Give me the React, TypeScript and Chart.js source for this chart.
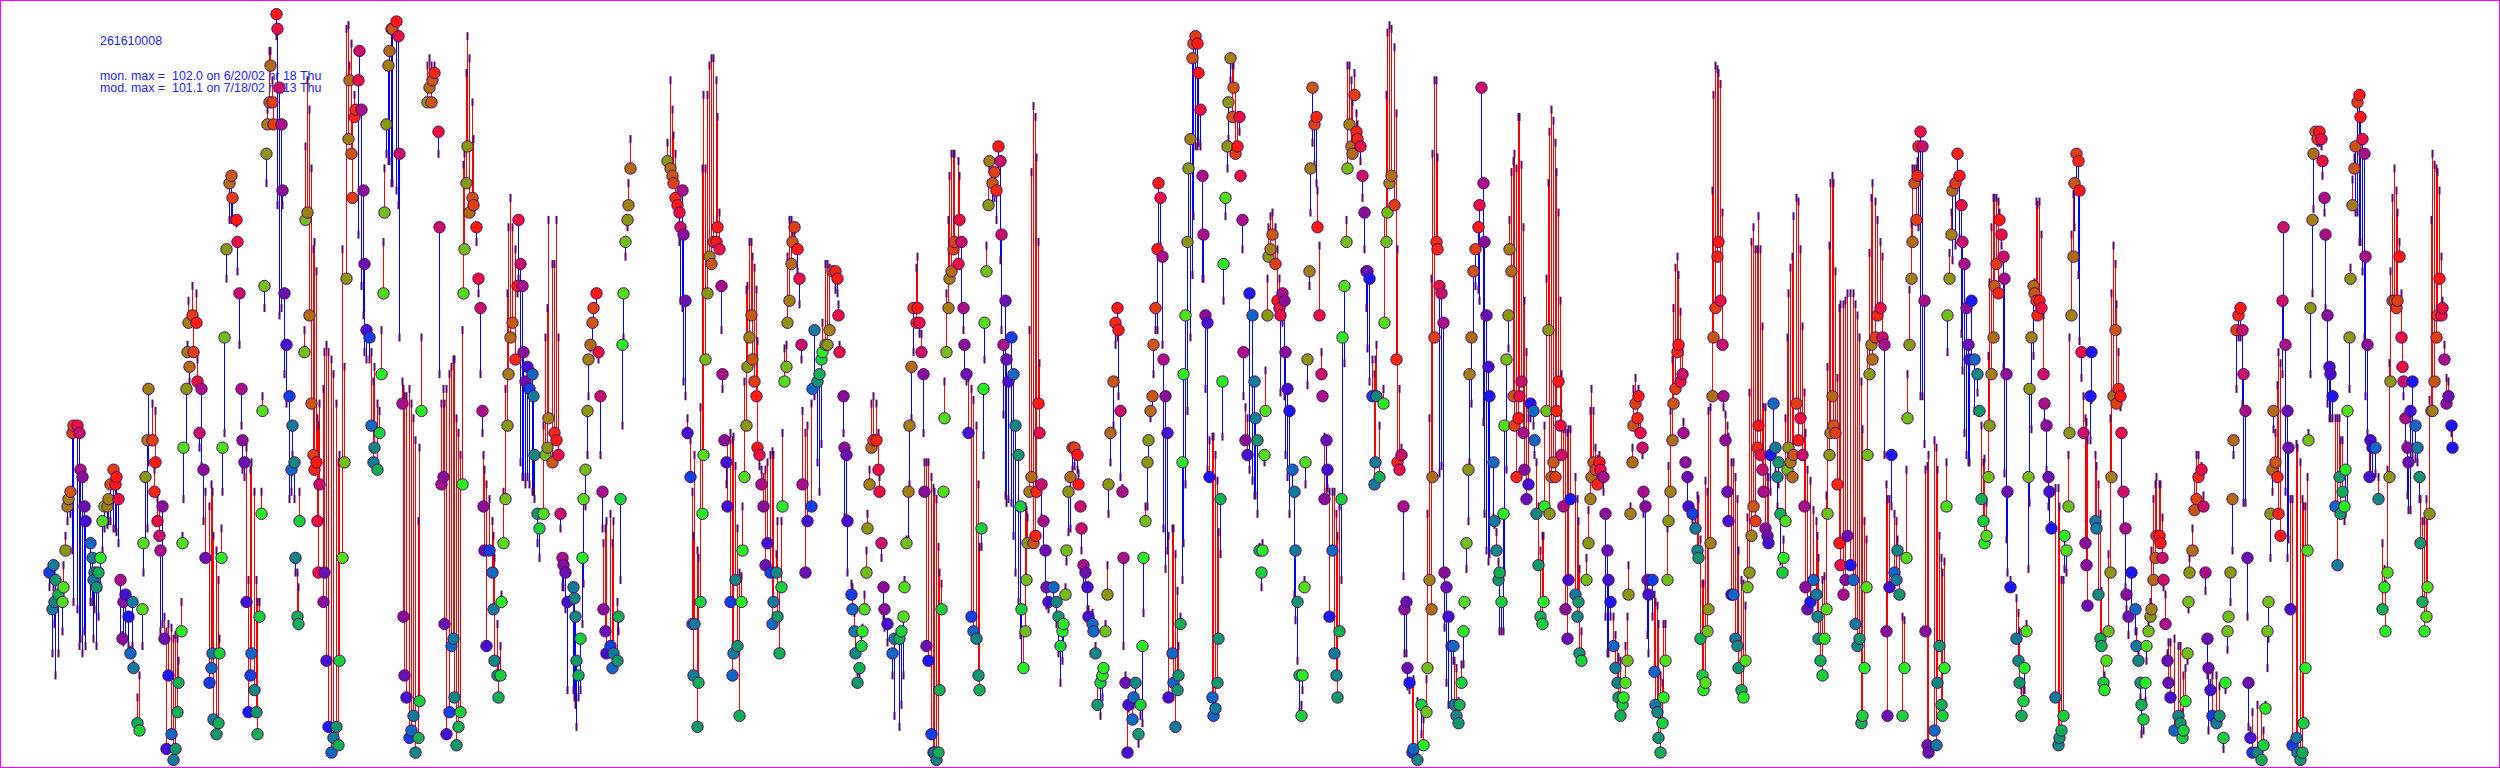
import { useEffect, useRef } from "react";
import { Chart, registerables } from "chart.js";

Chart.register(...registerables);

// Each record: [plot position along the hourly time axis, monitored ozone, modelled ozone]
const spanA = [[49,26,24],[53,27,24],[55,25,12],[52,21,15],[54,22,19],[58,23,15],[62,22,18],[63,24,27],[65,29,31],[67,35,33],[68,36,35],[70,37,34],[72,45,29],[73,46,22],[77,46,21],[79,45,16],[80,40,17],[82,39,15],[84,35,18],[85,33,16],[90,30,22],[92,28,22],[94,26,21],[93,25,17],[96,24,16],[98,26,20],[100,28,24],[102,33,29],[104,35,32],[107,35,32.5],[108,36,33],[110,38,33],[113,40,32],[115,38,32],[116,39,31.5],[118,36,30],[120,25,17],[122,17,17.5],[123,22,16.5],[125,23,17],[128,20,16],[130,15,15.5],[132,22,16],[133,13,13.5],[137,5.5,9],[139,4.5,12],[142,21,16],[143,30,26],[145,39,30],[147,44,32],[148,51,41],[152,44,49],[154,37,40],[155,41,48],[157,33,36],[159,31,35],[160,29,18],[162,35,19],[164,17,20],[166,2,18],[168,12,19],[171,4,18.5],[173,0.5,17],[175,2,17.5],[177,7,17],[178,11,14],[181,18,22],[182,30,31],[183,43,36],[186,51,43],[187,56,57],[188,60,63],[189,54,52],[192,61,65],[193,56,60],[196,60,64],[197,52,55],[199,45,43],[201,51,40.5],[203,40,33],[205,28,37],[209,11,35],[211,13,38],[212,15,37],[213,6,31],[216,4,29],[218,5.5,25],[219,15,17],[221,28,32],[222,43,37],[224,58,45],[226,70,66],[229,79,74],[231,80,74],[232,77,74],[236,74,73.5],[237,71,67],[239,64,57],[241,51,46],[242,44,40],[244,41,39],[246,22,43],[248,7,25],[250,12,40],[251,15,41],[254,10,37],[256,7,25],[257,4,22],[259,20,22],[261,34,37],[262,48,50],[264,65,62],[266,83,79],[267,87,89],[269,90,97],[270,95,97],[272,90,93],[273,87,90],[276,102,99],[277,100,76],[279,92,61],[281,87,62],[282,78,76],[284,64,53],[286,57,49],[289,50,36],[291,40,37],[292,46,42],[294,41,36],[295,28,26],[297,20,26],[298,19,24],[299,33,37]];

const spanB = [[304,56,59],[305,74,84],[307,75,93],[309,61,89],[311,49,81],[313,42,70],[314,40,71],[316,41,67],[317,33,47],[318,26,46],[319,38,49],[323,22,51],[324,26,56],[326,14,57],[328,5,56],[331,1.5,55],[333,3.5,53],[336,5,49],[338,2.5,41],[339,14,42],[342,28,70],[344,41,54],[346,66,100],[348,85,100.5],[349,93,95],[351,83,98],[352,77,88],[354,88,91],[355,89,89],[358,93,72],[359,97,93],[361,89,65],[363,78,61],[364,68,56],[366,59,55],[369,58,55],[371,46,56],[373,41,52],[374,43,54],[377,40,49],[379,45,48],[381,53,59],[383,64,71],[384,75,81],[386,87,83],[388,95,82],[389,97,82],[391,100,79],[392,100,79],[396,101,78],[398,99,76],[399,83,58],[402,49,52],[403,20,51],[404,12,50],[406,9,50],[409,3.5,51],[411,4.5,49],[413,6.5,47],[415,1.5,44],[418,3.5,33],[419,8.5,43],[421,48,58],[427,90,95],[429,92,96],[431,90,95],[432,93,94],[434,94,95],[438,86,83],[439,73,53],[441,38,49],[443,39,51],[444,19,49],[446,4,51],[449,7,53],[451,16,54],[453,17,55],[454,9,55],[456,2.5,47],[458,5,45],[460,7,42],[462,38,59],[463,64,81.5],[464,70,83],[466,79,94],[467,84,99],[469,75,96],[472,77,90],[473,76,85],[476,73,71],[478,66,64],[480,62,53],[482,48,45],[483,35,42],[484,29,40],[486,16,38],[489,29,36],[492,26,33],[493,21,31],[494,14,28],[497,12,19],[498,9,14],[500,12,16],[501,22,23],[503,30,37],[505,36,51],[507,46,64],[508,53,73],[510,58,77],[512,60,73],[515,55,70],[517,65,64],[518,74,66],[520,68,41],[522,65,39],[523,56,39],[525,52,38],[527,54,39],[529,51,38],[532,53,37],[533,50,37],[534,42,36],[537,34,30],[539,32,28],[543,34,46],[545,42,58],[547,43,62],[548,47,74],[552,41,68],[554,45,68],[556,44,74],[558,42,58],[560,34,32],[562,28,24],[563,27,24],[565,26,21],[567,22,10]];

const spanC = [[573,24,10],[574,22.5,9],[575,20,8],[576,14,5],[578,12,9],[580,17,10],[582,28,19],[583,36,24.5],[585,40,35],[587,48,42],[588,55,50],[590,57,56.5],[592,60,57],[593,62,60],[596,64,62],[598,56,55],[600,50,42],[602,37,32],[603,21,30],[605,18,32],[606,15,33],[610,16,34],[612,13,30],[613,15,33],[617,14,22],[618,20,18],[620,36,25],[622,57,46],[623,64,58],[625,71,69],[627,74,73],[628,76,79],[630,81,85],[667,82,84.5],[670,81,93],[672,80,89],[673,79,85.5],[675,77,83],[677,76,77],[679,75,71],[680,73,63],[682,78,62],[683,72,52],[685,63,50],[687,45,47],[690,39,44],[692,19,37],[693,12,31],[694,19,42],[697,5,29],[698,11,28],[700,22,48.5],[702,34,81],[703,42,91],[705,55,81],[707,64,91],[709,69,95],[711,68,96],[713,71,96],[716,71,93],[717,73,88],[719,70,75],[721,65,59],[722,53,51],[724,44,44],[726,41,38],[727,35,44],[730,22,45],[732,12,44],[733,15,44.5],[735,25,40.5],[737,16,32],[739,6.5,26],[741,22,25.5],[742,29,35],[744,39,52],[746,46,64.5],[747,54,65],[749,58,71],[751,61,71],[752,55,69],[754,52,67.5],[756,50,64.5],[757,43,57.5],[759,42,40.5],[761,38,40],[763,35,39],[765,27,40],[767,30,41],[770,26,42],[772,19,42.5],[773,22,42],[776,26,28.5],[777,20,33],[779,15,24],[781,24,33],[782,35,45],[784,52,56.5],[786,54,57],[787,60,69],[789,63,74],[791,68,74],[792,71,72.5],[794,73,72],[797,70,67],[799,66,62.5],[801,57,55],[802,38,48],[805,26,45],[807,33,46],[811,35,49],[812,51,51],[814,59,50],[817,52,41],[819,53,37],[821,55,43.5],[822,56,60],[825,57,68],[827,57,68],[829,59,67.5],[832,67,67],[835,67,64.5],[837,66,64],[838,61,62.5],[839,56,57]];

const spanD = [[843,50,45],[844,43,33.5],[846,42,33.5],[847,33,26],[851,23,24.5],[852,21,24],[854,18,20.5],[855,15,18],[857,11,12.5],[859,13,12],[861,16,17.5],[862,18,18.5],[864,21,23],[866,26,29],[867,32,34],[869,38,40],[871,43,49],[873,44,50],[876,44,49],[878,40,45],[879,37,39],[881,30,28],[883,24,20],[884,21,18.5],[887,19,16.5],[892,15,12],[894,17,6.5],[899,17,5],[901,18,8],[903,20,12],[904,24,25],[906,30,30.5],[908,37,30.5],[909,46,38],[911,54,47],[913,62,56],[916,60,67.5],[917,62,69],[919,60,58.5],[921,56,58.5],[923,53,45],[924,37,41],[926,16,41],[928,14,41],[931,4,39],[933,1.5,37.5],[934,1.5,37],[936,0.5,36],[938,1.5,29.5],[939,10,26],[941,21,24.5],[943,37,37],[944,47,52],[946,56,64],[948,62,74],[949,66,80],[951,67,83],[953,70,83],[954,71,83],[958,68,82],[959,74,80],[961,71,62],[963,62,59],[964,57,53],[966,53,52],[968,45,52.5],[971,20,51],[973,18,49.5],[976,17,46],[978,12,38],[979,10,29.5],[981,32,29.5],[983,51,42],[984,60,55],[986,67,70.5],[988,76,79],[989,82,81],[992,79,76],[994,80.5,77],[996,78,74],[998,84,81],[1000,82,68.5],[1001,72,59],[1003,57,47.5],[1005,63,36.5],[1006,55,35.5],[1008,52,36],[1011,58,35.5],[1013,53,31],[1015,46,26],[1018,42,22],[1020,35,17.5],[1021,21,13],[1023,13,18],[1025,18,35],[1026,25,34.5],[1027,30,33.5],[1029,37,59],[1031,39,80.5],[1033,30,89.5],[1035,31,88],[1036,37,82.5],[1038,49,71],[1039,45,54.5],[1041,38,33.5],[1043,33,29],[1045,29,24],[1046,24,21.5],[1048,22,21],[1053,24,22],[1056,22,19],[1058,20,15],[1060,16,11],[1062,18,14],[1063,19,16],[1065,23,24],[1066,29,27.5],[1068,37,31.5],[1070,39,32],[1072,43,40],[1074,43,40.5],[1077,42,40],[1078,38,39.5],[1080,35,35],[1081,32,29],[1083,27,24],[1085,26,24],[1087,24,21],[1088,20,21],[1092,19,20.5],[1093,18,18.5],[1095,15,16],[1097,8,11.5],[1100,11,6.5],[1102,12,9],[1103,13,13],[1105,18,19],[1107,23,27],[1108,38,34],[1110,45,41]];

const spanE = [[1113,52,46],[1115,60,57],[1117,62,58],[1118,59,50],[1120,48,39],[1122,37,37.5],[1123,28,16],[1125,11,12],[1127,1.5,8],[1128,8,7.5],[1132,6,8],[1133,9,8],[1135,11,8.5],[1138,4,2.7],[1140,8,6.5],[1142,16,5.5],[1143,28,20.5],[1145,33,35],[1147,41,35],[1148,44,41],[1150,48,47],[1152,50,48],[1153,57,53],[1155,62,59],[1157,70,59],[1158,79,69],[1160,77,70.5],[1162,69,57],[1163,55,32],[1165,50,26.5],[1167,45,29],[1168,9,31],[1172,15,32],[1173,11,32],[1175,5,28.5],[1177,10,23.5],[1178,12,16],[1180,19,20],[1182,41,25],[1183,53,30],[1185,61,38],[1187,71,48],[1188,81,71],[1190,85,58],[1192,96,66.5],[1193,98,74.5],[1195,99,84],[1197,98,84],[1198,94,84.5],[1200,89,84],[1202,80,66],[1203,72,66],[1205,61,51],[1207,60,40],[1209,39,44],[1212,9,44.5],[1213,6.5,44.5],[1215,7.5,42],[1217,11,38.5],[1218,17,31.5],[1220,36,28.5],[1222,52,44.5],[1223,68,63],[1225,77,74.5],[1227,84,81],[1228,90,85],[1230,96,93],[1232,88,95],[1233,92,95],[1235,83,92],[1237,84,88],[1239,88,86],[1240,80,80],[1242,74,70],[1243,56,50],[1245,44,48.5],[1247,42,47],[1249,64,40],[1252,61,38.5],[1254,52,36.5],[1255,47,36.5],[1257,44,34],[1259,29,29.5],[1261,26,24],[1262,29,30],[1264,42,41],[1265,48,53.5],[1267,61,66],[1268,69,73],[1270,70,74.5],[1272,72,75],[1275,68,73],[1277,63,70],[1279,62,66],[1280,61,50.5],[1282,64,60],[1284,63,50],[1285,56,42],[1287,51,39],[1289,48,34],[1292,40,37],[1294,37,23],[1295,29,19.5],[1297,22,14],[1299,12,7],[1301,6.5,8],[1302,12,10],[1304,24,25],[1305,41,38],[1307,55,51.5],[1309,67,65],[1310,81,75],[1312,92,84.5],[1314,87,81.5],[1316,88,79],[1317,73,78],[1319,61,70.5],[1321,53,56],[1322,50,50],[1324,36,44.5],[1326,44,37],[1327,40,37.5],[1329,20,37],[1332,29,37],[1334,15,37],[1336,12,34],[1337,9,31],[1339,18,35],[1341,36,25],[1342,58,36],[1344,65,54.5],[1346,71,74],[1347,81,95],[1349,87,95],[1351,84,93],[1352,83,90],[1354,91,94],[1356,86,88.5],[1357,85,87],[1360,84,82],[1362,80,77],[1364,75,70],[1366,67,62],[1367,67,56.5],[1369,66,52],[1372,50,55],[1374,38,53],[1375,41,55],[1376,50,57],[1379,39,46]];

const spanF = [[1383,49,51],[1384,60,75],[1386,71,91],[1387,75,99.5],[1389,79,100.5],[1391,80,100],[1394,76,97.5],[1396,55,88.5],[1397,41,70],[1399,40,51],[1401,42,43],[1403,35,25.5],[1404,21,15],[1406,22,15],[1407,13,10.5],[1409,11,10],[1412,1.5,11],[1413,2,11.5],[1417,0.5,8.5],[1421,8,4],[1423,2.5,6],[1426,7,11.5],[1427,13,34],[1429,25,47],[1431,21,66],[1432,39,83],[1434,58,93],[1436,71,93],[1437,70,82.5],[1439,65,39.5],[1441,64,40.5],[1443,60,26],[1444,26,18.5],[1446,24,11],[1448,20,8],[1451,16,8],[1453,16,14],[1454,8,14],[1456,6.5,13],[1458,5.5,8.5],[1459,8,8],[1461,11,13.5],[1463,18,13.5],[1464,22,21.5],[1466,30,26.5],[1468,40,33],[1469,53,41],[1471,58,49],[1473,67,58],[1475,70,65],[1478,73,64.5],[1479,76,63],[1481,92,79],[1483,79,46.5],[1484,71,34],[1486,61,29],[1488,54,27.5],[1489,50,28.5],[1493,41,33.5],[1494,33,32.5],[1496,29,31.5],[1498,25,27.5],[1499,26,18],[1501,22,18],[1503,34,18],[1504,46,26],[1506,55,40],[1508,61,56.5],[1509,70,74],[1511,67,80.5],[1513,50,82],[1514,46,83],[1516,39,81],[1518,47,88],[1519,50,88],[1521,52,81.5],[1523,45,73],[1524,40,63],[1526,36,56],[1528,38,47],[1530,49,47],[1533,48,46],[1534,44,42],[1536,34,41],[1538,27,35],[1540,20,29],[1542,19,31],[1543,22,31],[1544,35,46],[1546,48,66],[1548,59,79],[1549,34,86],[1551,39,89],[1553,41,87.5],[1555,39,84.5],[1556,48,80.5],[1558,52,75],[1560,46,63],[1561,42,53],[1563,35,45.5],[1565,21,45.5],[1567,17,45],[1568,25,45.5],[1570,36,45.5],[1575,23,39],[1577,20,36],[1578,22,33],[1579,15,26.5],[1581,14,18],[1586,25,28],[1588,30,34.5],[1590,36,48],[1591,39,51],[1593,41,48],[1595,40,43],[1597,38,41.5],[1599,41,42],[1600,40,39.5],[1603,39,37],[1605,34,20],[1607,29,15],[1608,25,15],[1610,22,20],[1613,16,20],[1615,13,17.5],[1617,11,16],[1618,9,14.5],[1620,6.5,14],[1622,8,8.5],[1623,9,9],[1625,11,16],[1627,14,20],[1628,23,27],[1630,34,35],[1632,41,43],[1633,46,51],[1635,49,52.5],[1637,47,50],[1638,50,51],[1640,45,47],[1642,43,42],[1643,37,34],[1645,35,24],[1647,25,17.5],[1648,23,15]];

const spanG = [[1652,25,20],[1654,12.5,23],[1655,8,22],[1657,7,21.5],[1658,3.5,19],[1660,1.5,12],[1662,5.5,11],[1663,9,19],[1665,14,19],[1667,25,32],[1668,33,40.5],[1670,37,48],[1672,44,55],[1673,49,62],[1675,51,67.5],[1677,56,69],[1678,57,66.5],[1680,52,61.5],[1682,53,56],[1683,45,46.5],[1685,41,41],[1687,39,35],[1688,35,34],[1692,34,33],[1695,32,33],[1697,29,36.5],[1698,28,36],[1700,17,30.5],[1702,12,24.5],[1703,10,24.5],[1705,11,38.5],[1707,18,37],[1708,21,48],[1710,30,48.5],[1712,50,78],[1713,58,91],[1715,62,95],[1717,69,94.5],[1718,71,94],[1720,63,92.5],[1722,57,75],[1723,50,48.5],[1725,44,47.5],[1727,37,46],[1728,33,44.5],[1731,23,41],[1733,23,41],[1735,17,39],[1737,16,36],[1738,13,29],[1741,10,25],[1743,9,24.5],[1745,14,21.5],[1747,24,33.5],[1749,26,50.5],[1751,31,71],[1753,35,73],[1755,33,70],[1757,43,70],[1758,46,74.5],[1760,42,70],[1762,40,59.5],[1763,37,48.5],[1765,32,48.5],[1767,31,39],[1768,30,39],[1770,42,37],[1773,49,43],[1775,43,39.5],[1777,39,35],[1778,41,38],[1780,34,27.5],[1782,26,28],[1783,28,30.5],[1785,33,47],[1787,40,58],[1788,43,64],[1790,41,67.5],[1792,39,69],[1793,42,74.5],[1796,49,77],[1798,44,76.5],[1800,47,70],[1802,42,59.5],[1804,35,50.5],[1805,24,45],[1807,21,40],[1810,22,38.5],[1813,25,34.5],[1816,23,33],[1817,20,31],[1818,17,28],[1820,14,20],[1822,12,25],[1824,17,25.5],[1826,21,36.5],[1827,34,54],[1829,42,70.5],[1830,45,79],[1832,50,80],[1833,46,79],[1835,45,67],[1837,38,52.5],[1839,30,62],[1840,27,62.5],[1843,23,62.5],[1845,25,63],[1847,31,64],[1850,27,64],[1853,25,64],[1855,19,62.5],[1857,16,61],[1859,17,58],[1861,5.5,52],[1862,6.5,45.5],[1864,13,33],[1866,24,30.5],[1867,42,57],[1869,53,69.5],[1871,57,77],[1872,55,79],[1875,58,76.5],[1877,61,74],[1880,62,71],[1882,58,69],[1884,57,42],[1886,18,38],[1887,6.5,36],[1889,24,36],[1891,42,35],[1894,26,34],[1896,25,33],[1897,29,30.5],[1899,23,29],[1902,6.5,20],[1904,13,19.5],[1906,28,40],[1907,47,53],[1909,57,64.5],[1911,66,73.5],[1912,71,81],[1914,79,81],[1916,74,81],[1917,80,82],[1918,84,73],[1920,86,50]];

const spanH = [[1922,84,50],[1924,63,43.5],[1925,18,40],[1927,2.5,40.5],[1928,1.5,42],[1934,4.5,44],[1936,2.5,43],[1937,11,40],[1939,16,31],[1941,8,28],[1942,6.5,26],[1944,13,27.5],[1946,35,41],[1947,61,56],[1949,66,69.5],[1951,72,75],[1952,78,68.5],[1955,79,70.5],[1957,83,80],[1959,80,71.5],[1961,76,58.5],[1962,71,53.5],[1964,68,45],[1966,62,42],[1968,57,41],[1969,55,41],[1971,63,55],[1974,55,48],[1977,53,50.5],[1979,48,48],[1981,36,46],[1983,33,41],[1984,30,41.5],[1986,31,35.5],[1988,39,55.5],[1989,46,65.5],[1991,53,73],[1993,58,77],[1994,65,77],[1996,68,77],[1998,64,76.5],[1999,74,75],[2001,72,70.5],[2003,69,54],[2004,66,39.5],[2006,53,30.5],[2007,37,26],[2010,24,25],[2016,17,22.5],[2018,14,20.5],[2019,11,18],[2021,6.5,10],[2023,8.5,11],[2024,13,10],[2026,18,19],[2028,39,26.5],[2029,51,35.5],[2031,58,45.5],[2033,65,55.5],[2034,64,65.5],[2036,63,76.5],[2037,61,76],[2039,63,76.5],[2041,62,72],[2043,53,61],[2044,49,46.5],[2046,46,40],[2048,39,35],[2049,37,32],[2051,32,32.5],[2055,9,37.5],[2058,2.5,37.5],[2059,3.5,35],[2061,4.5,25],[2063,6.5,25],[2064,31,26.5],[2066,29,26],[2068,35,42],[2069,45,58],[2071,61,72],[2073,69,77.5],[2074,79,73],[2076,83,79],[2078,82,66.5],[2079,78,57.5],[2081,56,52.5],[2083,45,50],[2085,30,47],[2086,27,46.5],[2087,21.5,44],[2090,50,44],[2091,56,49.5],[2095,33,42],[2096,32,40.5],[2098,23,38],[2100,17,34],[2101,16,23.5],[2103,11,14],[2104,10,12],[2106,14,14],[2108,18,28.5],[2110,26,47],[2111,39,64],[2113,50,70.5],[2115,59,68],[2116,49,62.5],[2118,51,56],[2120,50,48.5],[2121,45,37],[2123,37,32],[2125,32,24],[2126,23,21],[2128,20,17.5],[2131,26,21],[2135,21,18],[2136,16,18],[2138,14,15],[2140,11,9],[2141,8,4],[2143,6,4.5],[2145,11,8.5],[2146,16,14],[2148,18,19],[2150,20,22],[2151,21,29],[2153,25,36],[2155,28,38],[2156,31,39],[2159,31,38],[2160,30,38],[2162,28,33.5],[2163,25,24],[2165,19,23],[2167,14,15],[2168,11,16.5],[2170,9,16.5],[2174,4.5,17],[2178,6.5,16],[2180,5.5,16],[2182,3.5,7],[2183,4.5,12],[2185,8.5,13],[2187,15,14],[2188,22,21],[2189,26,28]];

const spanI = [[2192,29,32],[2194,34.5,39],[2196,36,42],[2198,39,42],[2201,40,40.5],[2203,35,36.5],[2205,26,23.5],[2207,17,12],[2208,13,4.5],[2210,10,11],[2212,6.5,12],[2216,5.5,12],[2219,6.5,10.5],[2223,3.5,2],[2225,11,10],[2227,18,15.5],[2228,20,20],[2230,26,22],[2232,36,29],[2233,44,42],[2236,59,51],[2238,61,58],[2240,62,58],[2242,59,49],[2243,53,35.5],[2245,48,35.5],[2247,28,20],[2248,11,5],[2250,3.5,4.5],[2252,1.5,7],[2257,1.5,8],[2261,0.5,7.5],[2263,2.5,4.5],[2265,7.5,8],[2267,18,13],[2268,22,17],[2270,34,28],[2272,40,37],[2273,48,45.5],[2275,41,45],[2277,39,51.5],[2278,34,56],[2280,31,54.5],[2282,63,53],[2283,73,57],[2285,57,37],[2287,48,28],[2288,43,30.5],[2290,21,36],[2292,2.5,36],[2296,3.5,43.5],[2297,1.5,43],[2300,0.5,41],[2302,1.5,36],[2303,5.5,35],[2305,13,35],[2307,29,39],[2308,44,45],[2310,62,53],[2312,74,64],[2313,83,75.5],[2315,86,85],[2317,85,84.5],[2319,86,84.5],[2321,85,84],[2322,82,80],[2324,77,75],[2325,72,62],[2327,61,49],[2329,54,47],[2330,53,47],[2332,50,47],[2335,35,47],[2337,27,47],[2339,39,47],[2340,34,44],[2342,37,44],[2344,35,33],[2345,40,34],[2347,48,35],[2349,58,51],[2350,66,67.5],[2352,76,79.5],[2354,81,82.5],[2355,84,75],[2357,90,75],[2359,91,71],[2360,88,71],[2362,85,67],[2364,83,58],[2365,69,50],[2367,57,45],[2369,39,43.5],[2370,44,39],[2372,43,39],[2375,43,39.5],[2378,36,39],[2382,21,30],[2384,24,26.5],[2385,18,24.5],[2387,26,40],[2389,39,54.5],[2390,52,67],[2392,63,77],[2394,63,81],[2396,62,78],[2397,63,75],[2399,69,71],[2401,58,64],[2402,54,58],[2403,52,50],[2405,47,43.5],[2407,43,36.5],[2408,41,34.5],[2410,48,34.5],[2412,52,42],[2415,46,41.5],[2417,43,41],[2419,39,36],[2420,30,36],[2422,22,33],[2424,18,33],[2426,20,36],[2427,24,34],[2429,34,49.5],[2431,48,74],[2432,48,83],[2434,52,81.5],[2436,58,81],[2437,61,80.5],[2439,66,78],[2441,61,69],[2442,62,63],[2444,55,57],[2446,49,52.5],[2448,50,52],[2451,46,45],[2452,43,46]];

const allSpans = [spanA, spanB, spanC, spanD, spanE, spanF, spanG, spanH, spanI];

// Hour-of-day colours, starting from the hour drawn red
const hourColors = ["#ff1a10","#e81040","#c81068","#a81088","#881098","#6810b0","#4410d0","#1818f0","#1040e0","#1068c0","#107c98","#108880","#109868","#10b050","#18d038","#28f020","#50e018","#70c018","#889810","#a08010","#b06c10","#c85810","#e04010","#f42810"];
const redPosition = 1438;
const hourWidth = 40.07 / 24;

const titleText = "261610008";
const monLabel = "mon. max =";
const monText = "102.0 on 6/20/02 hr 18 Thu";
const modLabel = "mod. max =";
const modText = "101.1 on 7/18/02 hr 13 Thu";

const text: React.CSSProperties = {
  position: "absolute",
  color: "#2222ff",
  font: "12.4px 'Liberation Sans', Arial, sans-serif",
  whiteSpace: "pre",
  lineHeight: "12px",
};

export default function App() {
  const ref = useRef<HTMLCanvasElement>(null);
  useEffect(() => {
    document.body.style.margin = "0";
    document.body.style.background = "#fff";
    const rows = allSpans.flat() as number[][];
    const upper: any[] = [];
    const lower: any[] = [];
    for (const [x, mon, mod] of rows) {
      const target = mod > mon ? upper : lower;
      target.push({ x, y: mon }, { x, y: mod }, { x, y: null });
    }
    const disks = rows.map(([x, mon]) => ({ x, y: mon }));
    const ticks = rows.map(([x, , mod]) => ({ x, y: mod }));
    const diskColors = rows.map(([x]) => {
      const h = Math.round((x - redPosition) / hourWidth);
      return hourColors[((h % 24) + 24) % 24];
    });
    const chart = new Chart(ref.current!, {
      type: "scatter",
      data: {
        datasets: [
          { label: "monitored", data: disks, order: 1, pointStyle: "circle", pointRadius: 5.7, pointBackgroundColor: diskColors, pointBorderColor: "#4a0a62", pointBorderWidth: 1 },
          { label: "modelled", data: ticks, order: 2, pointStyle: "line", pointRotation: 90, pointRadius: 4, pointBorderColor: "#560a6c", pointBorderWidth: 2, pointBackgroundColor: "#560a6c" },
          { label: "model above", data: upper, order: 3, showLine: true, spanGaps: false, borderColor: "#ff0000", borderWidth: 1, pointRadius: 0 },
          { label: "model below", data: lower, order: 4, showLine: true, spanGaps: false, borderColor: "#0000ff", borderWidth: 1, pointRadius: 0 },
        ],
      },
      options: {
        animation: false,
        responsive: false,
        maintainAspectRatio: false,
        layout: { padding: 0, autoPadding: false },
        events: [],
        plugins: { legend: { display: false }, tooltip: { enabled: false }, title: { display: false } },
        scales: {
          x: { type: "linear", min: -0.5, max: 2499.5, display: false },
          y: { type: "linear", min: -0.6, max: 103.93, display: false },
        },
      },
    });
    return () => chart.destroy();
  }, []);
  return (
    <div style={{ position: "absolute", left: 0, top: 0, width: 2500, height: 768, overflow: "hidden", background: "#fff" }}>
      <div style={{ ...text, left: 100, top: 35 }}>{titleText}</div>
      <div style={{ ...text, left: 100, top: 70 }}>{monLabel}</div>
      <div style={{ ...text, left: 172, top: 70 }}>{monText}</div>
      <div style={{ ...text, left: 100, top: 82 }}>{modLabel}</div>
      <div style={{ ...text, left: 172, top: 82 }}>{modText}</div>
      <canvas ref={ref} width={2500} height={768} style={{ position: "absolute", left: 0, top: 0, width: 2500, height: 768 }} />
      <div style={{ position: "absolute", inset: 0, boxSizing: "border-box", border: "1px solid #ff00ff", pointerEvents: "none" }} />
    </div>
  );
}
